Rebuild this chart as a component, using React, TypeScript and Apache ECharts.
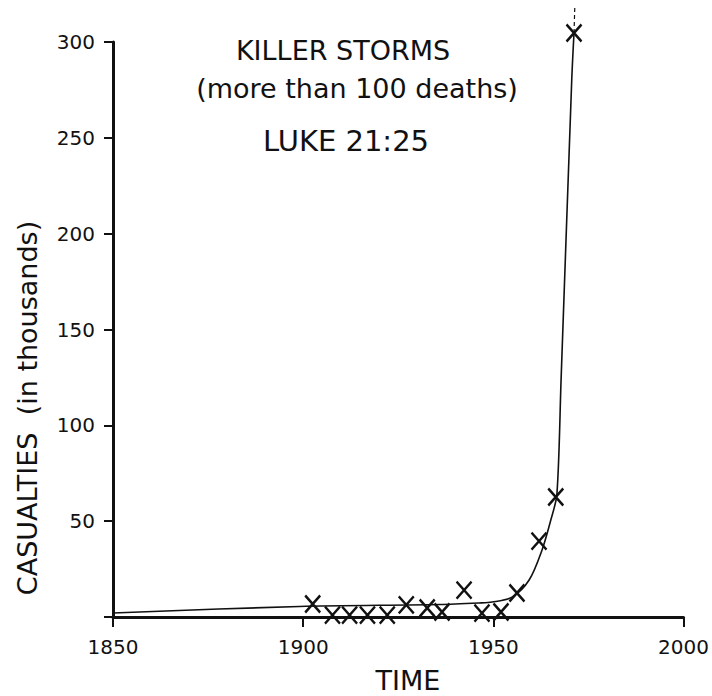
import React, { useEffect, useRef } from "react";
import * as echarts from "echarts";

// Observed storms (year, casualties in thousands)
const stormYears = [1902.5, 1907.7, 1912.2, 1916.9, 1922.1, 1927.1, 1932.6, 1936.5, 1942.3, 1947, 1952, 1956.2, 1962, 1966.4, 1971.2];
const stormCasualties = [6.8, 1, 1, 1, 1, 6.3, 4.7, 2.6, 14, 2, 2.6, 12.5, 39.6, 62.6, 304.7];

// Hand-drawn trend curve
const trendYears = [1850, 1899, 1935.8, 1946.2, 1949.7, 1954.9, 1959.4, 1962.8, 1965.1, 1966.7, 1967.8, 1970.6, 1971.2];
const trendValues = [2.1, 5.5, 6.5, 7.3, 7.8, 10.4, 19.3, 35, 50.6, 64, 123.6, 280, 304.7];

// Dashed continuation above the top point
const extYears = [1971.2, 1971.4];
const extValues = [304.7, 317.7];

const xTicks = [1850, 1900, 1950, 2000];
const yTicks = [0, 50, 100, 150, 200, 250, 300];

const FONT = "DejaVu Sans";
const INK = "#111";

export default function App() {
  const ref = useRef<HTMLDivElement>(null);

  useEffect(() => {
    if (!ref.current) return;
    const chart = echarts.init(ref.current, null, { renderer: "svg" });
    const pair = (xs: number[], ys: number[]) => xs.map((x, i) => [x, ys[i]]);
    chart.setOption({
      animation: false,
      backgroundColor: "#fff",
      grid: { left: 113, right: 27, top: 42, bottom: 79 },
      xAxis: {
        type: "value",
        min: xTicks[0],
        max: xTicks[xTicks.length - 1],
        interval: 50,
        axisLine: { show: true, lineStyle: { color: INK, width: 3 } },
        axisTick: { show: true, length: 10, lineStyle: { color: INK, width: 2 } },
        axisLabel: { color: INK, fontFamily: FONT, fontSize: 20, margin: 20, formatter: (v: number) => String(v) },
        splitLine: { show: false },
      },
      yAxis: {
        type: "value",
        min: yTicks[0],
        max: yTicks[yTicks.length - 1],
        interval: 50,
        axisLine: { show: true, lineStyle: { color: INK, width: 3 } },
        axisTick: { show: true, length: 9, lineStyle: { color: INK, width: 2 } },
        axisLabel: {
          color: INK,
          fontFamily: FONT,
          fontSize: 20,
          margin: 18,
          formatter: (v: number) => (v === 0 ? "" : String(v)),
        },
        splitLine: { show: false },
      },
      graphic: [
        { type: "text", x: 343, y: 50, style: { text: "KILLER STORMS", fill: INK, font: `27px "${FONT}"`, textAlign: "center", textVerticalAlign: "middle" } },
        { type: "text", x: 357, y: 88, style: { text: "(more than 100 deaths)", fill: INK, font: `27px "${FONT}"`, textAlign: "center", textVerticalAlign: "middle" } },
        { type: "text", x: 346, y: 141, style: { text: "LUKE 21:25", fill: INK, font: `29px "${FONT}"`, textAlign: "center", textVerticalAlign: "middle" } },
        { type: "text", x: 408, y: 680, style: { text: "TIME", fill: INK, font: `27px "${FONT}"`, textAlign: "center", textVerticalAlign: "middle" } },
        { type: "text", x: 27, y: 408, rotation: Math.PI / 2, style: { text: "CASUALTIES  (in thousands)", fill: INK, font: `27px "${FONT}"`, textAlign: "center", textVerticalAlign: "middle" } },
      ],
      series: [
        {
          type: "line",
          data: pair(trendYears, trendValues),
          showSymbol: false,
          smooth: 0.3,
          clip: false,
          lineStyle: { color: INK, width: 1.6 },
          z: 2,
        },
        {
          type: "line",
          data: pair(extYears, extValues),
          showSymbol: false,
          clip: false,
          lineStyle: { color: INK, width: 1.2, type: [4, 3] },
          z: 2,
        },
        {
          type: "scatter",
          data: pair(stormYears, stormCasualties),
          symbol: "path://M0,0L10,10M10,0L0,10",
          symbolSize: [15, 17],
          clip: false,
          itemStyle: { color: "rgba(0,0,0,0)", borderColor: INK, borderWidth: 2.5, opacity: 1 },
          z: 3,
        },
      ],
    });
    return () => chart.dispose();
  }, []);

  return (
    <div
      ref={ref}
      style={{ position: "fixed", left: 0, top: 0, width: 712, height: 696, background: "#fff" }}
    />
  );
}
